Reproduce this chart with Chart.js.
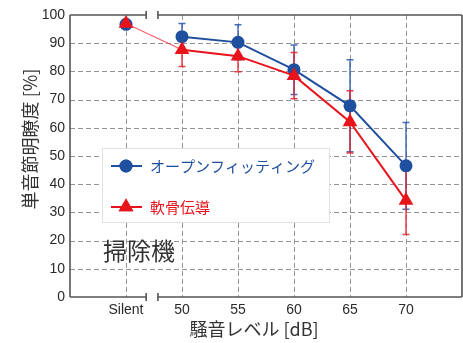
<!DOCTYPE html>
<html>
<head>
<meta charset="utf-8">
<script src="https://cdn.jsdelivr.net/npm/chart.js@4/dist/chart.umd.min.js"></script>
<style>
  html, body { margin: 0; padding: 0; background: #fff; }
  #wrap { width: 463px; height: 343px; }
</style>
</head>
<body>
<div id="wrap"><canvas id="c" width="463" height="343"></canvas></div>
<script>
// Noise conditions (x categories) and y ticks
const categories = ['Silent', '50', '55', '60', '65', '70'];
const yTicks = [0, 10, 20, 30, 40, 50, 60, 70, 80, 90, 100];

// Monosyllable intelligibility [%], mean and error half-width
const openFitMean = [96.7, 92.3, 90.3, 80.6, 67.8, 46.5];
const openFitErr  = [1.0, 4.7, 6.2, 8.8, 16.3, 15.4];
const boneMean    = [97.0, 87.7, 85.4, 78.5, 62.1, 34.2];
const boneErr     = [1.0, 6.0, 5.5, 8.2, 11.0, 12.0];

const seriesNames = ['オープンフィッティング', '軟骨伝導'];
const noiseSource = '掃除機';
const xTitle = '騒音レベル [dB]';
const yTitle = '単音節明瞭度 [%]';

const BLUE = '#1f4f9f';
const RED = '#e8141c';
const FONT = '"Liberation Sans", Arial, sans-serif';
const JFONT = '"Noto Sans CJK JP", "Noto Sans", sans-serif';

const toPoints = arr => arr.map((v, i) => ({ x: i, y: v }));

// axis break position between "Silent" and "50" (in index units)
const breakFrom = 0.36, breakTo = 0.57;

// dashed grid behind the data
const dashedGrid = {
  id: 'dashedGrid',
  beforeDatasetsDraw(chart) {
    const { ctx, chartArea: a, scales: { x, y } } = chart;
    ctx.save();
    ctx.strokeStyle = '#939393';
    ctx.lineWidth = 1;
    ctx.setLineDash([5, 3]);
    ctx.beginPath();
    categories.forEach((_, i) => {
      const px = Math.round(x.getPixelForValue(i)) + 0.5;
      ctx.moveTo(px, a.top); ctx.lineTo(px, a.bottom);
    });
    yTicks.filter(v => v > 0 && v < 100).forEach(v => {
      const py = Math.round(y.getPixelForValue(v)) + 0.5;
      ctx.moveTo(a.left, py); ctx.lineTo(a.right, py);
    });
    ctx.stroke();
    ctx.restore();
  }
};

const errorBars = {
  id: 'errorBars',
  beforeDatasetsDraw(chart) {
    const { ctx, scales: { x, y } } = chart;
    const sets = [
      { mean: openFitMean, err: openFitErr, color: 'rgba(40,85,170,0.85)' },
      { mean: boneMean, err: boneErr, color: 'rgba(232,30,45,0.85)' }
    ];
    ctx.save();
    ctx.lineWidth = 1.5;
    sets.forEach(s => {
      ctx.strokeStyle = s.color;
      s.mean.forEach((m, i) => {
        const px = x.getPixelForValue(i);
        const top = y.getPixelForValue(m + s.err[i]);
        const bot = y.getPixelForValue(m - s.err[i]);
        ctx.beginPath();
        ctx.moveTo(px, top); ctx.lineTo(px, bot);
        ctx.moveTo(px - 3.5, top); ctx.lineTo(px + 3.5, top);
        ctx.moveTo(px - 3.5, bot); ctx.lineTo(px + 3.5, bot);
        ctx.stroke();
      });
    });
    ctx.restore();
  }
};

const frameAndText = {
  id: 'frameAndText',
  afterDraw(chart) {
    const { ctx, chartArea: a, scales: { x } } = chart;
    const b1 = x.getPixelForValue(breakFrom);
    const b2 = x.getPixelForValue(breakTo);
    ctx.save();
    // frame with axis break on top and bottom edges
    ctx.strokeStyle = '#555';
    ctx.lineWidth = 1.6;
    ctx.beginPath();
    ctx.moveTo(a.left, a.top); ctx.lineTo(a.left, a.bottom);
    ctx.moveTo(a.right, a.top); ctx.lineTo(a.right, a.bottom);
    [a.top, a.bottom].forEach(yy => {
      ctx.moveTo(a.left, yy); ctx.lineTo(b1, yy);
      ctx.moveTo(b2, yy); ctx.lineTo(a.right, yy);
      ctx.moveTo(b1, yy - 4); ctx.lineTo(b1, yy + 4);
      ctx.moveTo(b2, yy - 4); ctx.lineTo(b2, yy + 4);
    });
    ctx.stroke();

    // axis titles
    ctx.fillStyle = '#333';
    ctx.font = '18px ' + JFONT;
    ctx.textAlign = 'center';
    ctx.textBaseline = 'middle';
    ctx.fillText(xTitle, 254, 329);
    ctx.save();
    ctx.translate(30, 139);
    ctx.rotate(-Math.PI / 2);
    ctx.fillText(yTitle, 0, 0);
    ctx.restore();

    // noise source label
    ctx.font = '24px ' + JFONT;
    ctx.textAlign = 'left';
    ctx.fillStyle = '#333';
    ctx.fillText(noiseSource, 103, 251);

    // legend box
    const L = 102, T = 148, R = 329, B = 222;
    ctx.fillStyle = '#fff';
    ctx.fillRect(L, T, R - L, B - T);
    ctx.strokeStyle = '#e2e2e2';
    ctx.lineWidth = 1;
    ctx.strokeRect(L + 0.5, T + 0.5, R - L, B - T);
    const rows = [
      { y: 166, color: BLUE, style: 'circle', r: 6.5, name: seriesNames[0] },
      { y: 207, color: RED, style: 'triangle', r: 8.5, name: seriesNames[1] }
    ];
    rows.forEach(rw => {
      ctx.strokeStyle = rw.color;
      ctx.lineWidth = 2;
      ctx.beginPath();
      ctx.moveTo(111, rw.y); ctx.lineTo(142, rw.y);
      ctx.stroke();
      ctx.fillStyle = rw.color;
      Chart.helpers.drawPoint(ctx, { pointStyle: rw.style, radius: rw.r, borderWidth: 0 }, 126, rw.y);
      ctx.fill();
      ctx.font = '15px ' + JFONT;
      ctx.textAlign = 'left';
      ctx.textBaseline = 'middle';
      ctx.fillText(rw.name, 150, rw.y);
    });
    ctx.restore();
  }
};

new Chart(document.getElementById('c'), {
  type: 'line',
  data: {
    datasets: [
      {
        label: seriesNames[0],
        data: toPoints(openFitMean),
        borderColor: BLUE,
        backgroundColor: BLUE,
        borderWidth: 2,
        pointStyle: 'circle',
        pointRadius: 6.5,
        pointBorderWidth: 0,
        order: 2,
        segment: { borderColor: c => c.p0DataIndex === 0 ? 'rgba(0,0,0,0)' : undefined }
      },
      {
        label: seriesNames[1],
        data: toPoints(boneMean),
        borderColor: RED,
        backgroundColor: RED,
        borderWidth: 2,
        pointStyle: 'triangle',
        pointRadius: 8.5,
        pointBorderWidth: 0,
        order: 1,
        segment: {
          borderColor: c => c.p0DataIndex === 0 ? 'rgba(240,80,90,0.9)' : undefined,
          borderWidth: c => c.p0DataIndex === 0 ? 1.2 : undefined
        }
      }
    ]
  },
  options: {
    responsive: false,
    animation: false,
    layout: { autoPadding: false, padding: { top: 15, right: 1, left: 0, bottom: 0 } },
    plugins: { legend: { display: false }, tooltip: { enabled: false } },
    scales: {
      x: {
        type: 'linear',
        min: -1, max: 6,
        afterFit: s => { s.height = 46; },
        afterBuildTicks: s => {
          s.ticks = [-1, ...categories.map((_, i) => i), categories.length].map(v => ({ value: v }));
        },
        ticks: {
          callback: v => categories[v] ?? '',
          color: '#2a2a2a',
          font: { family: FONT, size: 14 },
          padding: 0,
          maxRotation: 0,
          autoSkip: false
        },
        grid: { display: false, drawTicks: true, tickLength: 5 },
        border: { display: false }
      },
      y: {
        min: 0, max: 100,
        afterFit: s => { s.width = 70; },
        afterBuildTicks: s => { s.ticks = yTicks.map(v => ({ value: v })); },
        ticks: {
          color: '#2a2a2a',
          font: { family: FONT, size: 14 },
          padding: 5
        },
        grid: { display: false, drawTicks: false },
        border: { display: false }
      }
    }
  },
  plugins: [dashedGrid, errorBars, frameAndText]
});
</script>
</body>
</html>
